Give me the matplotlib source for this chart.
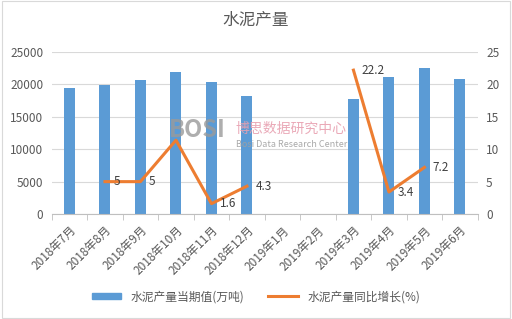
import numpy as np
import matplotlib
matplotlib.use('Agg')
import matplotlib.pyplot as plt
from matplotlib.patches import Patch
from matplotlib.lines import Line2D

plt.rcParams['font.family'] = ['Noto Sans CJK SC', 'DejaVu Sans']

months = ['2018年7月', '2018年8月', '2018年9月', '2018年10月', '2018年11月', '2018年12月',
          '2019年1月', '2019年2月', '2019年3月', '2019年4月', '2019年5月', '2019年6月']
output = [19400, 19900, 20700, 21900, 20300, 18200, 0, 0, 17750, 21150, 22550, 20850]
growth = [None, 5, 5, 11.4, 1.6, 4.3, None, None, 22.2, 3.4, 7.2, None]
growth_labels = [None, '5', '5', None, '1.6', '4.3', None, None, '22.2', '3.4', '7.2', None]

blue = '#5B9BD5'
orange = '#ED7D31'
txt = '#595959'

fig = plt.figure(figsize=(5.12, 3.19), dpi=100)
ax = fig.add_axes([0.101, 0.329, 0.832, 0.508])
x = np.arange(len(months))

ax.bar(x, output, width=0.31, color=blue, zorder=2)
ax.set_xlim(-0.5, len(months) - 0.5)
ax.set_ylim(0, 25000)
ax.set_yticks(range(0, 25001, 5000))
ax.grid(axis='y', color='#d9d9d9', linewidth=0.8, zorder=0)
for s in ['top', 'right', 'left']:
    ax.spines[s].set_visible(False)
ax.spines['bottom'].set_color('#bfbfbf')
ax.tick_params(axis='y', length=0, labelsize=8.5, colors=txt, pad=6)
ax.set_xticks(x)
ax.set_xticklabels(months, rotation=45, ha='right', rotation_mode='anchor', fontsize=8.5, color=txt)
ax.tick_params(axis='x', length=0, pad=7)
ax.set_xticks(np.arange(-0.5, len(months), 1), minor=True)
ax.tick_params(axis='x', which='minor', length=4, color='#bfbfbf')

ax2 = ax.twinx()
ax2.set_ylim(0, 25)
ax2.set_yticks(range(0, 26, 5))
for s in ['top', 'right', 'left', 'bottom']:
    ax2.spines[s].set_visible(False)
ax2.tick_params(axis='y', length=0, labelsize=8.5, colors=txt, pad=6)

# line breaks where data missing
gy = [np.nan if v is None else v for v in growth]
ax2.plot(x, gy, color=orange, linewidth=2.2, zorder=3)
for i, lab in enumerate(growth_labels):
    if lab is not None:
        ax2.annotate(lab, (i, growth[i]), xytext=(6, 0), textcoords='offset points',
                     ha='left', va='center', fontsize=8.5, color='#404040')

# watermark
fig.text(0.33, 0.57, 'BOSI', fontsize=17, fontweight='bold', color='#9a9a9a', alpha=0.8)
fig.text(0.46, 0.585, '博思数据研究中心', fontsize=10, color='#e8a0b0', alpha=0.9)
fig.text(0.46, 0.54, 'Bosi Data Research Center', fontsize=6.5, color='#a0a0a0', alpha=0.9)

fig.text(0.5, 0.935, '水泥产量', ha='center', va='center', fontsize=12, color=txt)

handles = [Patch(color=blue), Line2D([0], [0], color=orange, linewidth=2.2)]
fig.legend(handles, ['水泥产量当期值(万吨)', '水泥产量同比增长(%)'], loc='center',
           bbox_to_anchor=(0.5, 0.07), ncol=2, frameon=False, fontsize=8.5,
           handlelength=2.5, handleheight=0.5, columnspacing=2, labelcolor=txt)

fig.patches.append(plt.Rectangle((0.003, 0.003), 0.994, 0.994, transform=fig.transFigure,
                                 fill=False, edgecolor='#d9d9d9', linewidth=0.8))

fig.savefig('out.png', dpi=100)
